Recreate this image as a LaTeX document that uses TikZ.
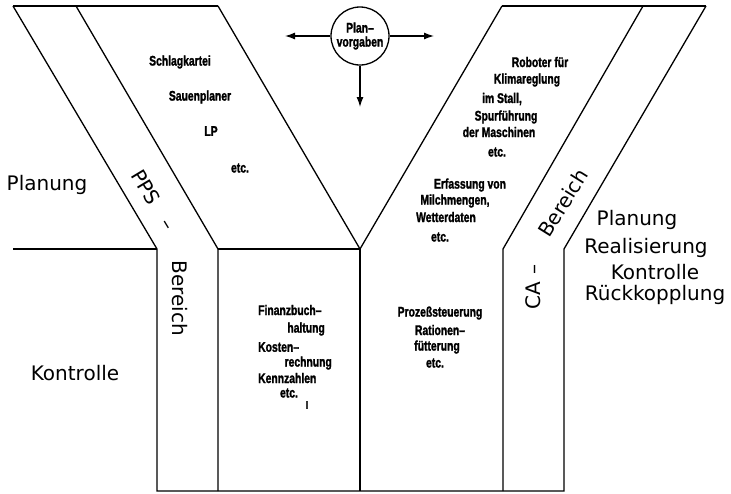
\documentclass[tikz,border=0pt]{standalone}
\usepackage{fontspec}
\setmainfont{DejaVu Sans}
\newfontfamily\condfont[FakeStretch=0.74,FakeBold=1.5]{Liberation Sans Bold}
\usetikzlibrary{arrows.meta}
\tikzset{
  ln/.style={line width=1.3pt, line join=miter},
  big/.style={inner sep=0pt, font=\fontsize{20}{22}\selectfont},
  sm/.style={inner sep=0pt, font=\condfont\fontsize{14}{16}\selectfont},
  arr/.style={line width=1.3pt, -{Latex[length=10pt,width=7pt]}},
}
\begin{document}
\begin{tikzpicture}[x=1pt,y=-1pt]
\useasboundingbox (0,0) rectangle (731,493);
% frame coordinates
\coordinate (L1t) at (13,6);
\coordinate (L2t) at (76,6);
\coordinate (L3t) at (218,6);
\coordinate (R1t) at (502,6);
\coordinate (R2t) at (643,6);
\coordinate (R3t) at (706,6);
\coordinate (H0) at (13,249);
\coordinate (L1k) at (157,249);
\coordinate (L2k) at (218,249);
\coordinate (Ap) at (360,249);
\coordinate (R2k) at (503,249);
\coordinate (R3k) at (564,249);
\coordinate (L1b) at (157,491);
\coordinate (L2b) at (218,491);
\coordinate (Apb) at (360,491);
\coordinate (R2b) at (503,491);
\coordinate (R3b) at (564,491);
\draw[ln] (L1t) -- (L3t);
\draw[ln] (R1t) -- (R3t);
\draw[ln] (L1t) -- (L1k) -- (L1b) -- (R3b) -- (R3k) -- (R3t);
\draw[ln] (L2t) -- (L2k) -- (L2b);
\draw[ln] (L3t) -- (Ap) -- (R1t);
\draw[ln] (Ap) -- (Apb);
\draw[ln] (R2t) -- (R2k) -- (R2b);
\draw[ln] (H0) -- (L1k);
\draw[ln] (L2k) -- (Ap);
% circle with arrows
\node[draw, line width=1.3pt, circle, minimum size=58pt, inner sep=0pt, sm, align=center] (pv) at (360,36) {Plan–\\[-2pt]vorgaben};
\coordinate (aL) at (285,36);
\coordinate (aR) at (434,36);
\coordinate (aD) at (360,107);
\draw[arr] (pv.west) -- (aL);
\draw[arr] (pv.east) -- (aR);
\draw[arr] (pv.south) -- (aD);
% big labels
\node[big] (plL) at (47,185) {Planung};
\node[big] (koL) at (75,373) {Kontrolle};
\node[big] (plR) at (637,220) {Planung};
\node[big] (reR) at (646,248) {Realisierung};
\node[big] (koR) at (655,272) {Kontrolle};
\node[big] (rkR) at (655,295) {Rückkopplung};
\node[big, rotate=-59] (pps) at (154,200) {PPS\hspace{20pt}–};
\node[big, rotate=-90] (berL) at (180,298) {Bereich};
\node[big, rotate=90] (ca) at (533,287) {CA\hspace{8pt}–};
\node[big, rotate=58] (berR) at (563,203) {Bereich};
% small labels
\node[sm] (s1) at (180,62) {Schlagkartei};
\node[sm] (s2) at (200,97) {Sauenplaner};
\node[sm] (s3) at (211,131) {LP};
\node[sm] (s4) at (240,168) {etc.};
\node[sm] (r1) at (540,62) {Roboter für};
\node[sm] (r2) at (527,80) {Klimareglung};
\node[sm] (r3) at (502,99) {im Stall,};
\node[sm] (r4) at (506,117) {Spurführung};
\node[sm] (r5) at (499,132) {der Maschinen};
\node[sm] (r6) at (497,152) {etc.};
\node[sm] (e1) at (470,185) {Erfassung von};
\node[sm] (e2) at (455,201) {Milchmengen,};
\node[sm] (e3) at (446,217) {Wetterdaten};
\node[sm] (e4) at (440,237) {etc.};
\node[sm, anchor=west] (f1) at (258,310) {Finanzbuch–};
\node[sm, anchor=east] (f2) at (325,329) {haltung};
\node[sm, anchor=west] (f3) at (258,347) {Kosten–};
\node[sm, anchor=east] (f4) at (332,363) {rechnung};
\node[sm, anchor=west] (f5) at (258,378) {Kennzahlen};
\node[sm] (f6) at (289,393) {etc.};
\node[sm] (f7) at (307,405) {ı};
\node[sm] (p1) at (440,313) {Prozeßsteuerung};
\node[sm] (p2) at (440,330) {Rationen–};
\node[sm] (p3) at (437,347) {fütterung};
\node[sm] (p4) at (435,363) {etc.};
\end{tikzpicture}
\end{document}
